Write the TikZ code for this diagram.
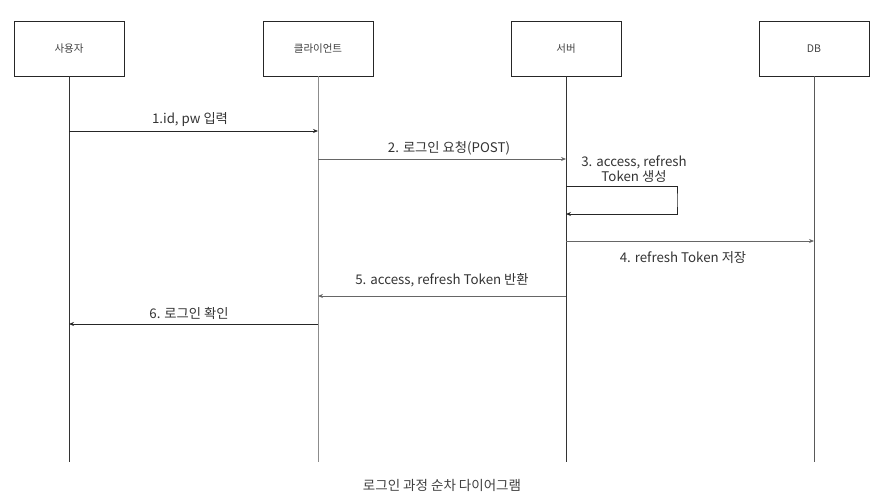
\documentclass[tikz,border=0pt]{standalone}
\usepackage{fontspec}
\setmainfont{Noto Sans CJK KR}
\usetikzlibrary{arrows.meta}
\begin{document}
\begin{tikzpicture}[x=1pt,y=-1pt,
  actor/.style={draw=black!85,line width=0.8pt,minimum width=110pt,minimum height=55pt,inner sep=0pt,font=\fontsize{10.5}{12}\selectfont,text=black!75},
  life/.style={draw=black!80,line width=0.8pt},
  msg/.style={draw=black!85,line width=0.8pt,-{Stealth[length=5pt,width=4pt]}},
  lbl/.style={font=\fontsize{13.3}{15.5}\selectfont,text=black!80,inner sep=0pt,align=center}]
\useasboundingbox (0,0) rectangle (884,503);
% participants
\node[actor] (user) at (69,48.5) {사용자};
\node[actor] (client) at (318,48.5) {클라이언트};
\node[actor] (server) at (566,48.5) {서버};
\node[actor] (db) at (814,48.5) {DB};
% lifeline ends
\coordinate (userE) at (69,462);
\coordinate (clientE) at (318,462);
\coordinate (serverE) at (566,462);
\coordinate (dbE) at (814,462);
\draw[life] (user.south) -- (userE);
\draw[life,draw=black!45] (client.south) -- (clientE);
\draw[life] (server.south) -- (serverE);
\draw[life,draw=black!65] (db.south) -- (dbE);
% message anchors on lifelines
\coordinate (u1) at (69,131);  \coordinate (c1) at (318,131);
\coordinate (c2) at (318,159); \coordinate (s2) at (566,159);
\coordinate (s3a) at (566,186); \coordinate (s3b) at (566,214);
\coordinate (s4) at (566,241); \coordinate (d4) at (814,241);
\coordinate (s5) at (566,296); \coordinate (c5) at (318,296);
\coordinate (c6) at (318,324); \coordinate (u6) at (69,324);
% messages
\draw[msg] (u1) -- (c1);
\node[lbl] (l1) at (190,120) {1.id, pw 입력};
\draw[msg,draw=black!60] (c2) -- (s2);
\node[lbl] (l2) at (449,148) {2. 로그인 요청(POST)};
\draw[msg] (s3a) -| (677,200) |- (s3b);
\node[lbl] (l3) at (634,169) {3. access, refresh\\Token 생성};
\draw[msg,draw=black!60] (s4) -- (d4);
\node[lbl] (l4) at (683,258) {4. refresh Token 저장};
\draw[msg,draw=black!60] (s5) -- (c5);
\node[lbl] (l5) at (442,280) {5. access, refresh Token 반환};
\draw[msg] (c6) -- (u6);
\node[lbl] (l6) at (189,313) {6. 로그인 확인};
% caption
\node[lbl,font=\fontsize{13.5}{15}\selectfont,text=black!75] (cap) at (442,485) {로그인 과정 순차 다이어그램};
\end{tikzpicture}
\end{document}
